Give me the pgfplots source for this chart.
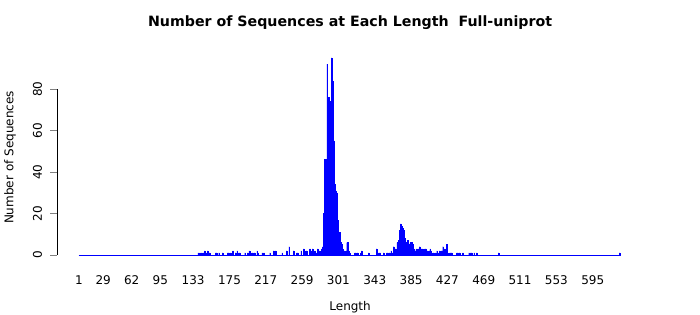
\documentclass[border=0pt]{standalone}
\usepackage{pgfplots}
\usepackage{pgfplotstable}
\pgfplotsset{compat=1.18}
\usepackage{fontspec}
\setmainfont{DejaVu Sans}

\pgfplotstableread{
L c
139 1
141 1
143 1
145 1
146 2
148 1
150 2
151 1
152 1
159 1
160 1
163 1
167 1
173 1
174 1
176 1
179 2
182 1
184 2
186 1
187 1
193 1
196 1
198 2
201 1
202 1
204 1
207 2
208 1
213 1
215 1
222 1
226 2
228 2
236 1
241 2
244 4
249 2
253 1
254 1
258 2
261 3
262 2
264 2
268 3
269 1
270 2
271 3
272 2
274 2
276 1
277 3
278 2
279 2
280 1
281 2
282 3
283 4
284 20
285 46
286 40
287 46
288 92
289 70
290 76
291 74
292 72
293 95
294 84
295 60
296 55
297 34
298 31
299 30
300 17
301 11
302 10
303 11
304 6
305 5
306 3
307 2
308 2
309 1
310 2
311 6
312 6
313 2
314 1
320 1
321 1
323 1
327 1
328 2
336 1
345 3
346 1
348 1
349 1
353 1
357 1
358 1
360 1
362 2
363 1
364 1
365 4
366 1
367 3
368 2
369 6
370 5
371 7
372 12
373 15
374 14
375 13
376 12
377 10
378 8
379 6
380 6
381 7
382 5
383 4
384 6
385 5
386 6
387 5
388 3
389 2
390 2
391 3
392 2
393 3
394 3
395 4
396 2
397 3
398 3
399 2
400 2
401 3
402 3
403 2
404 2
405 1
406 2
407 3
408 2
409 1
411 1
413 1
415 2
416 1
418 2
419 1
420 2
421 2
422 4
423 2
424 3
425 1
426 5
427 1
430 1
431 1
432 1
438 1
439 1
441 1
445 1
452 1
454 1
455 1
458 1
461 1
486 1
626 1
}\histdata

\begin{document}
\begin{tikzpicture}[x=1pt,y=1pt]
\path[use as bounding box] (0,0) rectangle (700,315);
\begin{axis}[
  at={(57pt,60pt)}, anchor=south west,
  scale only axis, width=585pt, height=166pt,
  xmin=-24.4, xmax=652, ymin=0, ymax=80,
  clip=false,
  axis y line*=left, axis x line*=bottom,
  x axis line style={draw=none},
  xtick style={draw=none},
  y axis line style={-, line width=0.5pt},
  ytick style={line width=0.5pt},
  tick align=outside, major tick length=7pt,
  xtick={1,29,62,95,133,175,217,259,301,343,385,427,469,511,553,595},
  ytick={0,20,40,60,80},
  /pgf/number format/assume math mode=true,
  tick label style={font=\fontsize{12}{14}\selectfont},
  xticklabel style={yshift=-10pt},
  yticklabel style={rotate=90, anchor=south, yshift=4.5pt},
  label style={font=\fontsize{12}{14}\selectfont},
  title={Number of Sequences at Each Length\ \ Full-uniprot},
  title style={at={(axis description cs:0.501,1.361)}, anchor=center, yshift=0pt, font=\bfseries\fontsize{14.2}{17}\selectfont},
  xlabel={Length},
  xlabel style={at={(axis description cs:0.501,-0.313)}, anchor=center},
  ylabel={Number of Sequences},
  ylabel style={at={(axis description cs:-0.0803,0.587)}, anchor=center},
]
\addplot[blue, line width=0.8pt, forget plot] coordinates {(0.6,0) (626.4,0)};
\addplot[ybar, bar width=0.83, fill=blue, draw=blue, line width=0.3pt] table[x=L,y=c]{\histdata};
\end{axis}
\end{tikzpicture}
\end{document}
